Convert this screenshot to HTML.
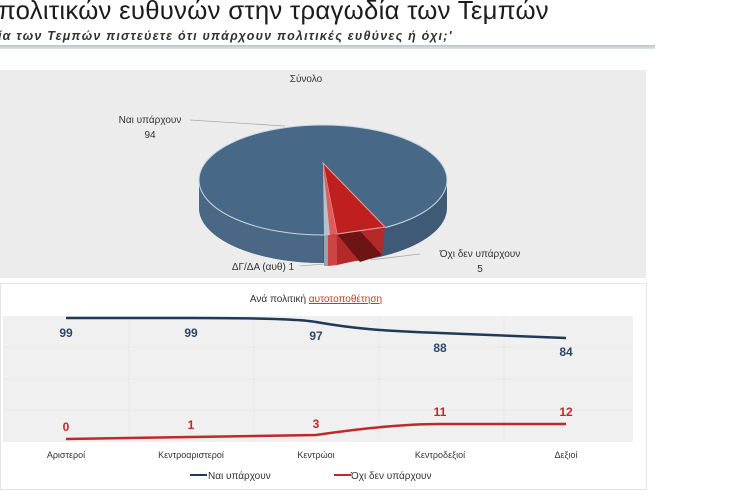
<!DOCTYPE html>
<html><head><meta charset="utf-8"><style>
body{margin:0;width:748px;height:498px;background:#fff;overflow:hidden;font-family:"Liberation Sans",sans-serif;position:relative}
.t{position:absolute;white-space:nowrap}
</style></head><body>
<div class="t" style="left:-2px;top:-3px;font-size:25.7px;color:#1c1c1c;letter-spacing:0.3px">πολιτικών ευθυνών στην τραγωδία των Τεμπών</div>
<div class="t" style="left:-2px;top:29px;font-size:12.5px;font-style:italic;font-weight:bold;color:#333;letter-spacing:1.2px">ία των Τεμπών πιστεύετε ότι υπάρχουν πολιτικές ευθύνες ή όχι;'</div>
<div style="position:absolute;left:0;top:45px;width:655px;height:4px;background:linear-gradient(#b8c4c8,#dfe5e7)"></div>
<svg width="748" height="498" style="position:absolute;left:0;top:0" font-family="Liberation Sans, sans-serif">
<rect x="0" y="70" width="646" height="208" fill="#ececec"/>
<text x="306" y="82" font-size="10" fill="#333" text-anchor="middle">Σύνολο</text>
<path d="M199 180 L199 208 A124 55 0 0 0 447 208 L447 180 Z" fill="#3e5a76"/>
<path d="M199 180 L199 208 A124 55 0 0 0 323 263 L323 235 A124 55 0 0 1 199 180 Z" fill="#4a6886"/>
<ellipse cx="323" cy="180" rx="124" ry="55" fill="#476886" stroke="#c9d6e2" stroke-width="1"/>
<polygon points="337,234 385,227 382,255 337,265" fill="#b32a2a"/>
<polygon points="337,234 360,231 382,255 360,262" fill="#6e1414"/>
<polygon points="323,163 385,227 337,234" fill="#c01f1f" stroke="#e9a0a0" stroke-width="1"/>
<polygon points="323,163 337,234 330,235" fill="#e25a5a"/>
<polygon points="327,235 337,234 337,265 328,266" fill="#cc4444"/>
<polygon points="323,163 330,235 324,236" fill="#b9c0c6"/>
<polygon points="324,236 328,235 328,266 324,266" fill="#9aa3aa"/>
<line x1="190" y1="120" x2="285" y2="126" stroke="#aaa" stroke-width="0.8"/>
<text x="150" y="123" font-size="10" fill="#333" text-anchor="middle">Ναι υπάρχουν</text>
<text x="150" y="138" font-size="10" fill="#333" text-anchor="middle">94</text>
<line x1="300" y1="266" x2="325" y2="264" stroke="#aaa" stroke-width="0.8"/>
<text x="263" y="270" font-size="10" fill="#333" text-anchor="middle">ΔΓ/ΔΑ (αυθ) 1</text>
<line x1="370" y1="260" x2="420" y2="254" stroke="#aaa" stroke-width="0.8"/>
<text x="480" y="257" font-size="10" fill="#333" text-anchor="middle">Όχι δεν υπάρχουν</text>
<text x="480" y="272" font-size="10" fill="#333" text-anchor="middle">5</text>
<rect x="0.5" y="283.5" width="646" height="206" fill="#fff" stroke="#e4e4e4"/>
<text x="316" y="302" font-size="10" fill="#333" text-anchor="middle">Ανά πολιτική <tspan fill="#c0392b" text-decoration="underline">αυτοτοποθέτηση</tspan></text>
<rect x="3" y="316" width="630" height="126" fill="#f0f0f0"/>
<g stroke="#e2e2e2" stroke-width="0.6">
<line x1="129" y1="316" x2="129" y2="442"/><line x1="254" y1="316" x2="254" y2="442"/><line x1="379" y1="316" x2="379" y2="442"/><line x1="504" y1="316" x2="504" y2="442"/>
<line x1="3" y1="347" x2="633" y2="347"/><line x1="3" y1="379" x2="633" y2="379"/><line x1="3" y1="410" x2="633" y2="410"/>
</g>
<path d="M66 318 L191 318 C250 318 300 319 316 322 C350 328 380 331 440 333 L566 338" fill="none" stroke="#1f3a57" stroke-width="2.5"/>
<path d="M66 439 L191 437 L316 435 C350 430 400 424 440 424 L566 424" fill="none" stroke="#c0282b" stroke-width="2.5"/>
<g font-size="12" font-weight="bold" fill="#2d4866" text-anchor="middle">
<text x="66" y="337">99</text><text x="191" y="337">99</text><text x="316" y="340">97</text><text x="440" y="352">88</text><text x="566" y="356">84</text></g>
<g font-size="12" font-weight="bold" fill="#c0282b" text-anchor="middle">
<text x="66" y="431">0</text><text x="191" y="429">1</text><text x="316" y="428">3</text><text x="440" y="416">11</text><text x="566" y="416">12</text></g>
<g font-size="9" fill="#333" text-anchor="middle">
<text x="66" y="458">Αριστεροί</text><text x="191" y="458">Κεντροαριστεροί</text><text x="316" y="458">Κεντρώοι</text><text x="440" y="458">Κεντροδεξιοί</text><text x="566" y="458">Δεξιοί</text></g>
<line x1="190" y1="475" x2="207" y2="475" stroke="#1f3a57" stroke-width="2"/>
<text x="208" y="479" font-size="10" fill="#333">Ναι υπάρχουν</text>
<line x1="334" y1="475" x2="351" y2="475" stroke="#c0282b" stroke-width="2"/>
<text x="351" y="479" font-size="10" fill="#333">Όχι δεν υπάρχουν</text>
</svg>
</body></html>
